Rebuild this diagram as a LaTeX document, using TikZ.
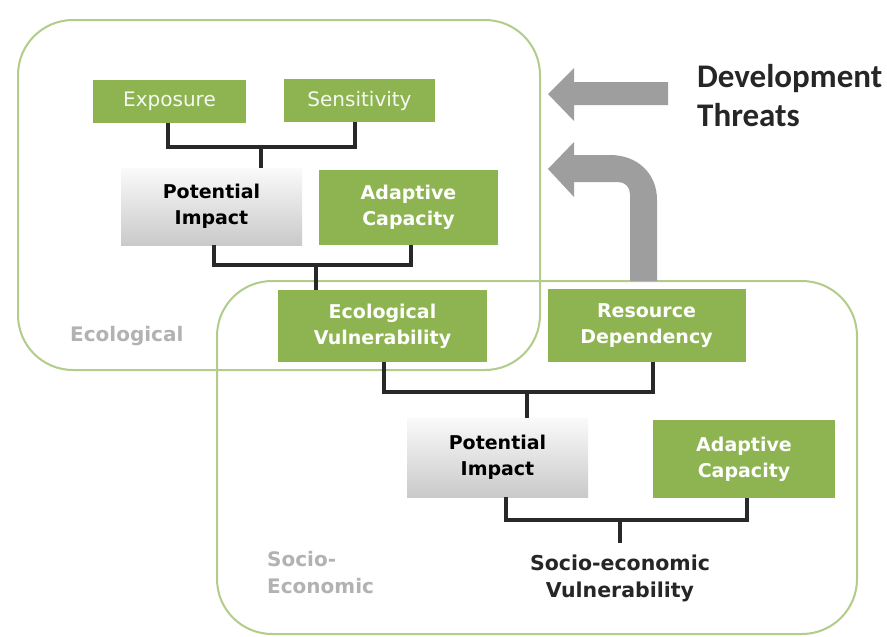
\documentclass[tikz,border=0pt]{standalone}
\usepackage{fontspec}
\setmainfont{DejaVu Sans}
\newfontfamily\calfont{Carlito}
\usetikzlibrary{calc}
\definecolor{boxgreen}{RGB}{141,180,80}
\definecolor{framegreen}{RGB}{178,204,138}
\definecolor{arrowgray}{RGB}{158,158,158}
\definecolor{labelgray}{RGB}{178,178,178}
\definecolor{bracketcol}{RGB}{40,40,40}
\tikzset{
  gbox/.style={fill=boxgreen, text=white, font=\bfseries\fontsize{19}{26}\selectfont, align=center, inner sep=0pt},
  gboxlight/.style={fill=boxgreen, text=white!92!boxgreen, font=\fontsize{20}{26}\selectfont, align=center, inner sep=0pt},
  pbox/.style={top color=gray!4, bottom color=gray!42, text=black, font=\bfseries\fontsize{19}{26}\selectfont, align=center, inner sep=0pt},
  frame/.style={draw=framegreen, line width=2pt},
  bracket/.style={draw=bracketcol, line width=3.5pt},
  graylabel/.style={text=labelgray, font=\bfseries\fontsize{20}{27}\selectfont, align=left, inner sep=0pt},
  blacklabel/.style={text=black!85, font=\bfseries\fontsize{20.5}{27}\selectfont, align=center, inner sep=0pt},
  threat/.style={text=black!85, font=\calfont\bfseries\fontsize{33}{39}\selectfont, align=left, inner sep=0pt},
  bigarrow/.style={fill=arrowgray, draw=none}
}
\begin{document}
\begin{tikzpicture}[x=1pt,y=-1pt]
\useasboundingbox (0,0) rectangle (887,637);
\fill[white] (0,0) rectangle (887,637);
% frames
\draw[frame, rounded corners=55pt] (18,20) rectangle (540,370);
\draw[frame, rounded corners=55pt] (217,281) rectangle (857,634);
% arrows
\fill[bigarrow] (668,82) -- (574,82) -- (574,68) -- (548,94) -- (574,121) -- (574,105) -- (668,105) -- cycle;
\fill[bigarrow] (657,281) -- (657,200) .. controls (657,173) and (637,155) .. (610,155) -- (574,155) -- (574,142) -- (548,169) -- (574,197) -- (574,182) -- (618,182) .. controls (625,182) and (630,187) .. (630,194) -- (630,281) -- cycle;
% boxes
\node[gboxlight, minimum width=153pt, minimum height=43pt] (E) at (169.5,101.5) {Exposure};
\node[gboxlight, minimum width=151pt, minimum height=43pt] (S) at (359.5,100.5) {Sensitivity};
\node[pbox, minimum width=181pt, minimum height=77pt] (PI1) at (211.5,206.5) {Potential\\Impact};
\node[gbox, minimum width=179pt, minimum height=75pt] (AC1) at (408.5,207.5) {Adaptive\\Capacity};
\node[gbox, minimum width=209pt, minimum height=72pt] (EV) at (382.5,326) {Ecological\\Vulnerability};
\node[gbox, minimum width=198pt, minimum height=73pt] (RD) at (646.5,325.5) {Resource\\Dependency};
\node[pbox, minimum width=181pt, minimum height=79pt] (PI2) at (497.5,457.5) {Potential\\Impact};
\node[gbox, minimum width=182pt, minimum height=78pt] (AC2) at (744,459) {Adaptive\\Capacity};
\node[blacklabel] (SEV) at (620,578) {Socio-economic\\Vulnerability};
% labels
\node[graylabel, anchor=west] (ecolab) at (70,336) {Ecological};
\node[graylabel, anchor=west] (soclab) at (267,573) {Socio-\\Economic};
\node[threat, anchor=north west] (dev) at (697,64) {Development\\Threats};
% brackets
\coordinate (b1a) at ([xshift=-1.5pt]E.south);
\coordinate (b1b) at ([xshift=-4.5pt]S.south);
\draw[bracket] (b1a) -- ++(0,24) -| (b1b);
\coordinate (m1) at ($(b1a)!.497!(b1b)+(0,24)$);
\draw[bracket] (m1) -- (m1 |- PI1.north);
\coordinate (b2a) at ([xshift=2.5pt]PI1.south);
\coordinate (b2b) at ([xshift=2.5pt]AC1.south);
\draw[bracket] (b2a) -- ++(0,20) -| (b2b);
\coordinate (m2) at ($(b2a)!.518!(b2b)+(0,20)$);
\draw[bracket] (m2) -- (m2 |- EV.north);
\coordinate (b3a) at ([xshift=1.5pt]EV.south);
\coordinate (b3b) at ([xshift=6.5pt]RD.south);
\draw[bracket] (b3a) -- ++(0,30) -| (b3b);
\coordinate (m3) at ($(b3a)!.532!(b3b)+(0,30)$);
\draw[bracket] (m3) -- (m3 |- PI2.north);
\coordinate (b4a) at ([xshift=8.5pt]PI2.south);
\coordinate (b4b) at ([xshift=3pt]AC2.south);
\draw[bracket] (b4a) -- ++(0,23) -| (b4b);
\coordinate (m4) at ($(b4a)!.473!(b4b)+(0,23)$);
\coordinate (m4end) at ($(m4)+(0,22)$);
\draw[bracket] (m4) -- (m4end);
\end{tikzpicture}
\end{document}
